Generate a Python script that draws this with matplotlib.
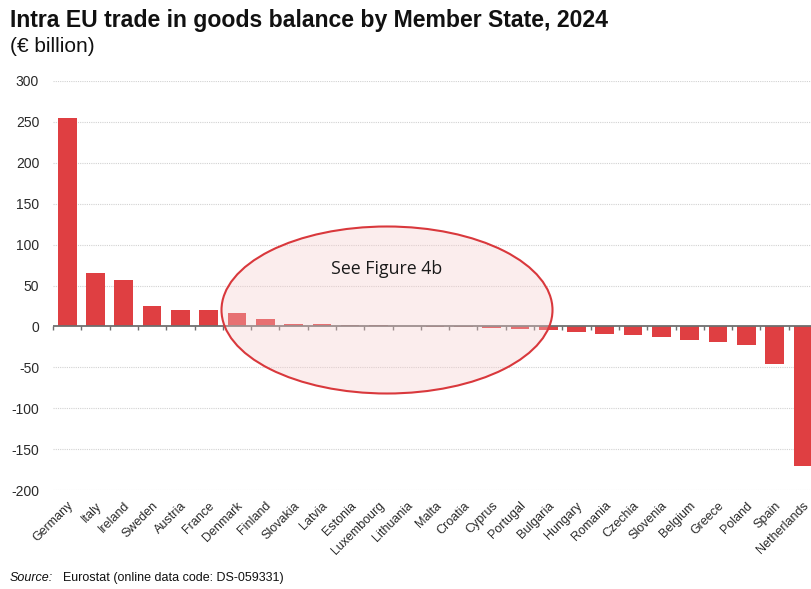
import matplotlib
matplotlib.use('Agg')
import matplotlib.pyplot as plt
from matplotlib.patches import Ellipse

plt.rcParams['font.family'] = ['Liberation Sans', 'DejaVu Sans']

# Intra EU trade in goods balance, 2024 (EUR billion)
countries = ['Germany', 'Italy', 'Ireland', 'Sweden', 'Austria', 'France', 'Denmark',
             'Finland', 'Slovakia', 'Latvia', 'Estonia', 'Luxembourg', 'Lithuania',
             'Malta', 'Croatia', 'Cyprus', 'Portugal', 'Bulgaria', 'Hungary', 'Romania',
             'Czechia', 'Slovenia', 'Belgium', 'Greece', 'Poland', 'Spain', 'Netherlands']
balance = [255, 65, 57, 25, 20, 20, 17,
           9, 2.5, 2.5, 1.3, 1.3, 0.3,
           -1, -1, -2, -3.5, -4.5, -6.5, -9.5,
           -11, -13, -16, -19, -23, -46, -171]
yticks = [-200, -150, -100, -50, 0, 50, 100, 150, 200, 250, 300]

bar_color = '#DF3F42'

fig = plt.figure(figsize=(8.11, 5.89), dpi=100)
ax = fig.add_axes([0.0654, 0.168, 0.942, 0.6945])

x = range(len(countries))
ax.bar(x, balance, width=0.66, color=bar_color, zorder=3)

ax.set_ylim(-200, 300)
ax.set_xlim(-0.5, len(countries) - 0.5)
ax.set_yticks(yticks)
ax.set_yticklabels([str(v) for v in yticks], fontsize=10, color='#2a2a2a')
ax.set_xticks(list(x))
ax.set_xticklabels(countries, rotation=45, ha='right', rotation_mode='anchor',
                   fontsize=9, color='#2a2a2a')
ax.tick_params(axis='y', length=0, pad=10)
ax.tick_params(axis='x', length=0, pad=7)

for s in ax.spines.values():
    s.set_visible(False)

# dotted grid, solid zero line
for v in yticks:
    if v != 0:
        ax.axhline(v, color='#D2D2D2', lw=0.8, ls=(0, (1, 1)), zorder=1)
ax.axhline(0, color='#6E6E6E', lw=1.3, zorder=4)

# small category ticks hanging from the zero line
zero_axis = ax.secondary_xaxis((0 - (-200)) / 500)
zero_axis.set_xticks([i - 0.5 for i in range(len(countries))])
zero_axis.set_xticklabels([])
zero_axis.tick_params(direction='out', length=3, width=1, color='#6E6E6E')
zero_axis.spines['bottom'].set_visible(False)

# highlight of the small balances
ell = Ellipse((387 / 811, 1 - 310 / 589), 331 / 811, 167 / 589,
              transform=fig.transFigure, facecolor=(0.965, 0.8, 0.8, 0.35),
              edgecolor='#D9383C', lw=1.5, zorder=10)
fig.add_artist(ell)
fig.text(387 / 811, 1 - 269 / 589, 'See Figure 4b', ha='center', va='center',
         fontsize=12.8, family=['Open Sans', 'DejaVu Sans'], color='#1a1a1a', zorder=11)

fig.text(10 / 811, 1 - 20 / 589, 'Intra EU trade in goods balance by Member State, 2024',
         fontsize=16.6, fontweight='bold', va='center', ha='left', color='#111111')
fig.text(10 / 811, 1 - 47 / 589, '(€ billion)', fontsize=15, va='center', ha='left',
         color='#111111')

fig.text(10 / 811, 1 - 578 / 589, 'Source:', fontsize=9, style='italic',
         va='center', ha='left', color='#111111')
fig.text(63 / 811, 1 - 578 / 589, 'Eurostat (online data code: DS-059331)', fontsize=9,
         va='center', ha='left', color='#111111')

fig.savefig('out.png', dpi=100)
